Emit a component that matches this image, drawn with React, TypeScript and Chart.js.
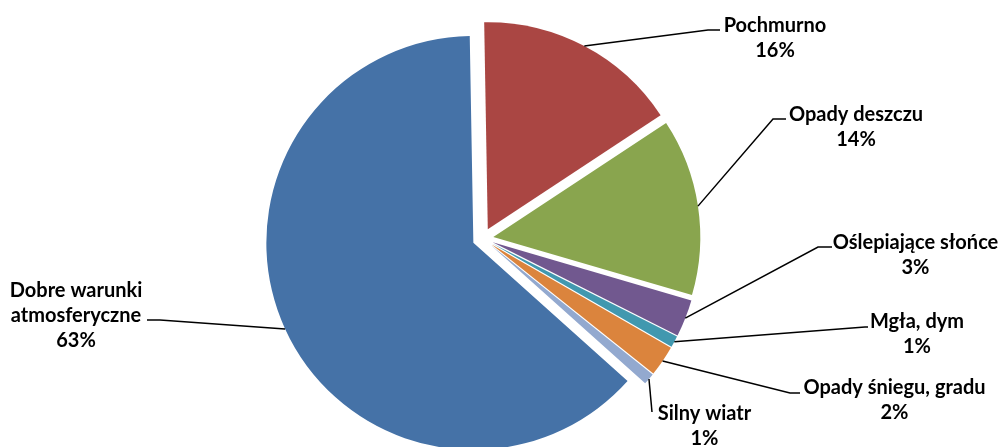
import { useEffect, useRef } from 'react';
import { Chart, registerables } from 'chart.js';

Chart.register(...registerables);

const categories = [
  'Pochmurno',
  'Opady deszczu',
  'Oślepiające słońce',
  'Mgła, dym',
  'Opady śniegu, gradu',
  'Silny wiatr',
  'Dobre warunki atmosferyczne',
];
const shares = [16.0, 13.8, 2.9, 0.9, 2.4, 0.9, 63.1];
const colors = ['#AA4643', '#89A54E', '#71588F', '#4198AF', '#DB843D', '#93A9CF', '#4572A7'];
const labelLines = [
  ['Pochmurno'],
  ['Opady deszczu'],
  ['Oślepiające słońce'],
  ['Mgła, dym'],
  ['Opady śniegu, gradu'],
  ['Silny wiatr'],
  ['Dobre warunki', 'atmosferyczne'],
];

// label layout: text centre x, first baseline y, leader elbow and leader end
const labelLayout = [
  { cx: 775, y: 31.5, elbow: [708, 30], end: [720, 30] },
  { cx: 856, y: 120.5, elbow: [773, 119], end: [786, 119] },
  { cx: 915.5, y: 248.5, elbow: [818, 247], end: [832, 247] },
  { cx: 917, y: 328, elbow: [865, 327], end: [868, 327] },
  { cx: 894.5, y: 394, elbow: [790, 393], end: [800, 393] },
  { cx: 704.5, y: 419.5, elbow: [652, 412], end: [652, 412] },
  { cx: 76, y: 297, elbow: [160, 320], end: [147, 320] },
];

const EXPLODE = 10.5;
const LINE_H = 25;
const FONT = 'bold 20px Lato';

const explodePlugin = {
  id: 'explodeSlices',
  beforeDatasetDraw(chart: any, args: any) {
    const meta = chart.getDatasetMeta(args.index);
    meta.data.forEach((el: any) => {
      if (el.__wrapped) return;
      const orig = el.draw.bind(el);
      el.draw = (ctx: CanvasRenderingContext2D, area: any) => {
        const mid = (el.startAngle + el.endAngle) / 2;
        ctx.save();
        ctx.translate(Math.cos(mid) * EXPLODE, Math.sin(mid) * EXPLODE);
        orig(ctx, area);
        ctx.restore();
      };
      el.__wrapped = true;
    });
  },
};

const labelPlugin = {
  id: 'pieLabels',
  afterDatasetsDraw(chart: any) {
    const ctx: CanvasRenderingContext2D = chart.ctx;
    const meta = chart.getDatasetMeta(0);
    const total = shares.reduce((a, b) => a + b, 0);
    ctx.save();
    meta.data.forEach((el: any, i: number) => {
      const mid = (el.startAngle + el.endAngle) / 2;
      const r = el.outerRadius + EXPLODE;
      const sx = el.x + Math.cos(mid) * r;
      const sy = el.y + Math.sin(mid) * r;
      const L = labelLayout[i];
      ctx.strokeStyle = '#000';
      ctx.lineWidth = 1.5;
      ctx.beginPath();
      ctx.moveTo(sx, sy);
      ctx.lineTo(L.elbow[0], L.elbow[1]);
      ctx.lineTo(L.end[0], L.end[1]);
      ctx.stroke();
      ctx.fillStyle = '#000';
      ctx.font = FONT;
      ctx.textAlign = 'center';
      ctx.textBaseline = 'alphabetic';
      const lines = [...labelLines[i], Math.round((shares[i] / total) * 100) + '%'];
      lines.forEach((t, k) => ctx.fillText(t, L.cx, L.y + k * LINE_H));
    });
    ctx.restore();
  },
};

export default function App() {
  const ref = useRef<HTMLCanvasElement>(null);
  useEffect(() => {
    document.body.style.margin = '0';
    const chart = new Chart(ref.current!, {
      type: 'pie',
      data: {
        labels: categories,
        datasets: [
          {
            data: shares,
            backgroundColor: colors,
            borderWidth: 0,
          },
        ],
      },
      options: {
        responsive: false,
        animation: false,
        rotation: -1,
        layout: { padding: { left: 0, right: 34.2, top: 31.5, bottom: 1.5 } },
        plugins: { legend: { display: false }, tooltip: { enabled: false } },
      },
      plugins: [explodePlugin, labelPlugin],
    });
    return () => chart.destroy();
  }, []);
  return (
    <div style={{ position: 'absolute', left: 0, top: 0, width: 1000, height: 447, background: '#fff' }}>
      <canvas ref={ref} width={1000} height={447} />
    </div>
  );
}
